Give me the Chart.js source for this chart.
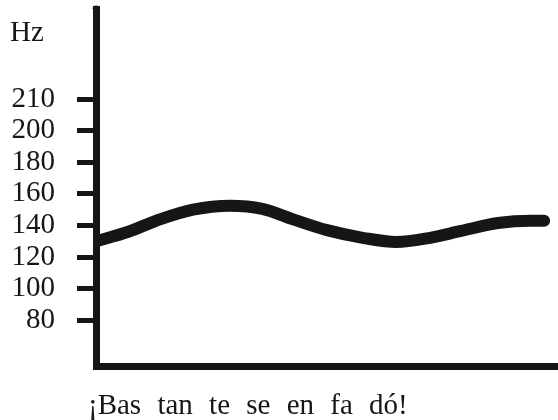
<!DOCTYPE html>
<html>
<head>
<meta charset="utf-8">
<script src="https://cdn.jsdelivr.net/npm/chart.js@4"></script>
<style>
  html, body { margin: 0; padding: 0; background: #fff; }
  #wrap { width: 558px; height: 420px; }
</style>
</head>
<body>
<div id="wrap"><canvas id="chart" width="558" height="420"></canvas></div>
<script>
// pitch contour (time in % of the utterance, pitch in Hz)
const timePos = [0, 7, 14, 21, 29, 36, 43, 50, 58, 65, 72, 79, 87, 94, 97];
const pitchHz = [130, 136, 144, 150, 152.5, 150.5, 143.5, 137, 132, 129.5, 132, 136.5, 141.5, 143, 143];

// the axis is drawn evenly spaced, the top mark is labelled 210
const tickValues = [80, 100, 120, 140, 160, 180, 200, 220];
const tickLabels = ['80', '100', '120', '140', '160', '180', '200', '210'];

const unitLabel = 'Hz';
const sentence = '¡Bas tan te se en fa dó!';

const INK = '#161616';
const FONT = '"Liberation Serif", "DejaVu Serif", serif';

// unit label above the ticks, sentence under the time axis, rounded axis top
const textPlugin = {
    id: 'extraText',
    afterDraw(chart) {
        const ctx = chart.ctx;
        const area = chart.chartArea;
        ctx.save();
        ctx.fillStyle = INK;
        ctx.beginPath();
        ctx.arc(area.left, area.top, 3.5, Math.PI, 0);
        ctx.fill();
        ctx.font = '29px ' + FONT;
        ctx.textAlign = 'left';
        ctx.textBaseline = 'alphabetic';
        ctx.fillText(unitLabel, 10, 41);
        ctx.wordSpacing = '9px';
        ctx.fillText(sentence, area.left - 8, area.bottom + 48);
        ctx.restore();
    }
};

const ctx = document.getElementById('chart').getContext('2d');
new Chart(ctx, {
    type: 'line',
    data: {
        datasets: [{
            data: timePos.map((t, i) => ({ x: t, y: pitchHz[i] })),
            borderColor: INK,
            borderWidth: 12,
            borderCapStyle: 'round',
            borderJoinStyle: 'round',
            cubicInterpolationMode: 'monotone',
            pointRadius: 0,
            fill: false,
        }]
    },
    options: {
        responsive: false,
        animation: false,
        layout: { padding: { top: 9, right: 0, left: 0, bottom: 0 } },
        plugins: {
            legend: { display: false },
            tooltip: { enabled: false },
        },
        scales: {
            x: {
                type: 'linear',
                min: 0,
                max: 100,
                ticks: { display: false },
                grid: { display: false },
                border: { display: true, color: INK, width: 7 },
                afterFit(scale) {
                    scale.height = 54;
                    scale.paddingLeft = 0;
                    scale.paddingRight = 0;
                },
            },
            y: {
                type: 'linear',
                min: 51,
                max: 277,
                afterBuildTicks(scale) {
                    scale.ticks = tickValues.map(v => ({ value: v }));
                },
                ticks: {
                    color: INK,
                    padding: 22,
                    font: { family: FONT, size: 29 },
                    callback: (v) => tickLabels[tickValues.indexOf(v)],
                },
                grid: {
                    drawOnChartArea: false,
                    drawTicks: true,
                    tickLength: 19,
                    lineWidth: 5,
                    color: INK,
                },
                border: { display: true, color: INK, width: 7 },
                afterFit(scale) {
                    scale.width = 96;
                    scale.paddingTop = 0;
                    scale.paddingBottom = 0;
                },
            }
        }
    },
    plugins: [textPlugin]
});
</script>
</body>
</html>
